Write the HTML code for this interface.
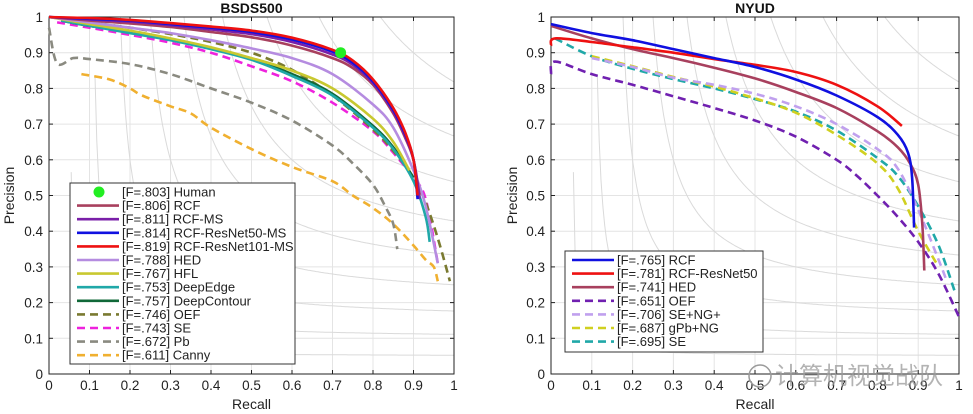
<!DOCTYPE html>
<html><head><meta charset="utf-8">
<style>
html,body{margin:0;padding:0;background:#fff;}
svg{display:block;font-family:"Liberation Sans",Arial,sans-serif;}
</style></head>
<body>
<svg id="fig" width="973" height="414" viewBox="0 0 973 414" xmlns="http://www.w3.org/2000/svg"></svg>
<script>
const ticks = [0,0.1,0.2,0.3,0.4,0.5,0.6,0.7,0.8,0.9,1];
const tickLabels = ["0","0.1","0.2","0.3","0.4","0.5","0.6","0.7","0.8","0.9","1"];
const isoF = [0.1,0.2,0.3,0.4,0.5,0.6,0.7,0.8,0.9];

// BSDS500 series: [recall, precision]
const bRCF101 = [[0,1],[0.1,0.997],[0.2,0.992],[0.3,0.983],[0.4,0.973],[0.5,0.962],[0.6,0.942],[0.7,0.908],[0.75,0.878],[0.8,0.825],[0.85,0.745],[0.88,0.675],[0.9,0.6],[0.91,0.5]];
const bRCF50 = [[0,1],[0.1,0.995],[0.2,0.99],[0.3,0.98],[0.4,0.97],[0.5,0.958],[0.6,0.937],[0.7,0.903],[0.75,0.872],[0.8,0.82],[0.85,0.74],[0.88,0.67],[0.9,0.6],[0.91,0.49]];
const bRCFMS = [[0,1],[0.1,0.993],[0.2,0.987],[0.3,0.977],[0.4,0.965],[0.5,0.952],[0.6,0.93],[0.7,0.895],[0.75,0.866],[0.8,0.815],[0.85,0.735],[0.88,0.665],[0.9,0.6],[0.915,0.49]];
const bRCF = [[0,1],[0.1,0.99],[0.2,0.982],[0.3,0.972],[0.4,0.958],[0.5,0.943],[0.6,0.92],[0.7,0.885],[0.75,0.857],[0.8,0.81],[0.85,0.73],[0.88,0.66],[0.9,0.6],[0.915,0.5]];
const bHED = [[0,1],[0.1,0.985],[0.2,0.97],[0.3,0.955],[0.4,0.935],[0.5,0.912],[0.6,0.885],[0.7,0.84],[0.8,0.755],[0.85,0.69],[0.9,0.57],[0.93,0.47],[0.96,0.31]];
const bHFL = [[0,1],[0.1,0.98],[0.2,0.962],[0.3,0.94],[0.4,0.915],[0.5,0.885],[0.6,0.85],[0.7,0.8],[0.8,0.715],[0.85,0.65],[0.89,0.57]];
const bDeepEdge = [[0.03,0.99],[0.1,0.975],[0.2,0.955],[0.3,0.935],[0.4,0.91],[0.5,0.88],[0.6,0.835],[0.7,0.78],[0.8,0.69],[0.85,0.63],[0.9,0.54],[0.93,0.44],[0.94,0.37]];
const bDeepContour = [[0.03,0.99],[0.1,0.975],[0.2,0.957],[0.3,0.937],[0.4,0.912],[0.5,0.882],[0.6,0.84],[0.7,0.785],[0.8,0.695],[0.85,0.635],[0.9,0.55]];
const bOEF = [[0,1],[0.1,0.985],[0.2,0.97],[0.3,0.952],[0.4,0.93],[0.5,0.9],[0.6,0.852],[0.7,0.78],[0.8,0.685],[0.85,0.625],[0.9,0.55],[0.93,0.48],[0.96,0.38],[0.99,0.26]];
const bSE = [[0.02,0.985],[0.1,0.97],[0.2,0.95],[0.3,0.928],[0.4,0.9],[0.5,0.862],[0.6,0.82],[0.7,0.76],[0.8,0.68],[0.85,0.62],[0.9,0.55],[0.93,0.49],[0.96,0.31]];
const bPb = [[0,0.97],[0.02,0.87],[0.06,0.885],[0.1,0.882],[0.2,0.868],[0.3,0.84],[0.4,0.8],[0.5,0.76],[0.6,0.71],[0.7,0.64],[0.75,0.59],[0.8,0.53],[0.83,0.47],[0.85,0.42],[0.86,0.35]];
const bCanny = [[0.08,0.84],[0.15,0.825],[0.2,0.8],[0.23,0.78],[0.3,0.75],[0.35,0.73],[0.4,0.69],[0.5,0.63],[0.6,0.58],[0.7,0.54],[0.75,0.5],[0.8,0.465],[0.85,0.42],[0.9,0.36],[0.93,0.32],[0.95,0.3],[0.96,0.26]];
const bHuman = [0.72,0.90];

// NYUD series
const nRCF = [[0,0.98],[0.1,0.955],[0.2,0.935],[0.3,0.91],[0.4,0.885],[0.5,0.86],[0.6,0.825],[0.7,0.78],[0.8,0.72],[0.85,0.67],[0.875,0.62],[0.885,0.55],[0.89,0.41]];
const nRCF50 = [[0,0.92],[0.01,0.94],[0.1,0.93],[0.2,0.915],[0.3,0.9],[0.4,0.882],[0.5,0.866],[0.6,0.846],[0.7,0.81],[0.8,0.75],[0.86,0.695]];
const nHED = [[0,0.975],[0.1,0.94],[0.2,0.91],[0.3,0.885],[0.4,0.858],[0.5,0.828],[0.6,0.79],[0.7,0.745],[0.8,0.68],[0.85,0.635],[0.88,0.59],[0.9,0.53],[0.91,0.42],[0.915,0.29]];
const nOEF = [[0,0.84],[0.01,0.875],[0.1,0.84],[0.2,0.81],[0.3,0.778],[0.4,0.745],[0.5,0.71],[0.6,0.665],[0.7,0.6],[0.75,0.555],[0.8,0.5],[0.85,0.44],[0.9,0.37],[0.95,0.28],[1.0,0.16]];
const nSENG = [[0.1,0.885],[0.2,0.86],[0.3,0.83],[0.4,0.81],[0.5,0.785],[0.6,0.75],[0.7,0.7],[0.8,0.63],[0.85,0.575],[0.9,0.46],[0.95,0.32],[0.97,0.26]];
const nGPb = [[0.1,0.89],[0.2,0.862],[0.3,0.832],[0.4,0.805],[0.5,0.772],[0.6,0.732],[0.7,0.67],[0.8,0.59],[0.85,0.52],[0.9,0.4],[0.95,0.3]];
const nSE = [[0.01,0.94],[0.1,0.89],[0.2,0.855],[0.3,0.826],[0.4,0.8],[0.5,0.77],[0.6,0.735],[0.7,0.682],[0.8,0.605],[0.85,0.555],[0.9,0.47],[0.95,0.36],[0.99,0.23]];

const NS = "http://www.w3.org/2000/svg";
const svg = document.getElementById('fig');
function mk(tag, attrs, parent){
  const e = document.createElementNS(NS, tag);
  for (const k in attrs) e.setAttribute(k, attrs[k]);
  (parent||svg).appendChild(e);
  return e;
}
function smoothPath(p){
  let d = 'M'+p[0][0].toFixed(1)+','+p[0][1].toFixed(1);
  for(let i=0;i<p.length-1;i++){
    const a=p[i-1]||p[i], b=p[i], c=p[i+1], e=p[i+2]||c;
    const c1x=b[0]+(c[0]-a[0])/6, c1y=b[1]+(c[1]-a[1])/6;
    const c2x=c[0]-(e[0]-b[0])/6, c2y=c[1]-(e[1]-b[1])/6;
    d+=' C'+c1x.toFixed(1)+','+c1y.toFixed(1)+' '+c2x.toFixed(1)+','+c2y.toFixed(1)+' '+c[0].toFixed(1)+','+c[1].toFixed(1);
  }
  return d;
}

function drawPanel(cfg){
  const {x0,x1,y0,y1,title,name} = cfg;
  const sx = v => x0 + v*(x1-x0);
  const sy = v => y0 - v*(y0-y1);
  const g = mk('g',{});
  
  
  mk('rect',{x:x0,y:y1,width:x1-x0,height:y0-y1,fill:'#fff'},g);
  ticks.forEach(t=>{
    mk('line',{x1:sx(t),x2:sx(t),y1:y1,y2:y0,stroke:'#e4e4e4','stroke-width':1},g);
    mk('line',{x1:x0,x2:x1,y1:sy(t),y2:sy(t),stroke:'#e4e4e4','stroke-width':1},g);
  });
  const clipId = name+'-clip';
  const cp = mk('clipPath',{id:clipId},g);
  mk('rect',{x:x0,y:y1,width:x1-x0,height:y0-y1},cp);
  isoF.forEach(f=>{
    let pts=[];
    for(let i=0;i<=200;i++){
      const r = f/2 + (1-f/2)*i/200 + 0.0001;
      const p = f*r/(2*r-f);
      if(p<=1.05) pts.push(sx(r).toFixed(1)+','+sy(Math.min(p,1.05)).toFixed(1));
    }
    const pl = mk('polyline',{points:pts.join(' '),fill:'none',stroke:'#dadada','stroke-width':1,'clip-path':'url(#'+clipId+')'},g);
    
    
  });
  mk('rect',{x:x0,y:y1,width:x1-x0,height:y0-y1,fill:'none',stroke:'#222','stroke-width':1},g);
  ticks.forEach((t,i)=>{
    mk('line',{x1:sx(t),x2:sx(t),y1:y0,y2:y0-4,stroke:'#222'},g);
    mk('line',{x1:sx(t),x2:sx(t),y1:y1,y2:y1+4,stroke:'#222'},g);
    mk('line',{x1:x0,x2:x0+4,y1:sy(t),y2:sy(t),stroke:'#222'},g);
    mk('line',{x1:x1,x2:x1-4,y1:sy(t),y2:sy(t),stroke:'#222'},g);
    const xl = mk('text',{x:sx(t),y:y0+16,'font-size':13.5,'text-anchor':'middle',fill:'#222'},g);
    xl.textContent = tickLabels[i];
    
    
    const yl = mk('text',{x:x0-6,y:sy(t)+5,'font-size':13.5,'text-anchor':'end',fill:'#222'},g);
    yl.textContent = tickLabels[i];
    
    
  });
  const tt = mk('text',{x:(x0+x1)/2,y:13,'font-size':14,'font-weight':'bold','text-anchor':'middle',fill:'#111'},g);
  tt.textContent = title;
  
  
  const xt = mk('text',{x:(x0+x1)/2,y:409,'font-size':14,'text-anchor':'middle',fill:'#222'},g);
  xt.textContent = 'Recall';
  
  
  const yt = mk('text',{x:0,y:0,'font-size':14,'text-anchor':'middle',fill:'#222',transform:'translate('+(cfg.ytx)+','+((y0+y1)/2)+') rotate(-90)'},g);
  yt.textContent = 'Precision';
  
  
  cfg.series.forEach(s=>{
    const p = s.data.map(d=>[sx(d[0]),sy(d[1])]);
    const pl = mk('path',{d:smoothPath(p),fill:'none',stroke:s.color,'stroke-width':2.6,'stroke-linejoin':'round','stroke-dasharray':s.dash?'8,5':'none'},g);
    
    
  });
  if(cfg.human){
    const c = mk('circle',{cx:sx(cfg.human[0]),cy:sy(cfg.human[1]),r:5.5,fill:'#22ee22'},g);
    
    
  }
  const L = cfg.legend;
  const lg = mk('g',{},g);
  
  
  mk('rect',{x:L.x,y:L.y,width:L.w,height:L.h,fill:'#fff',stroke:'#333','stroke-width':1},lg);
  L.items.forEach((it,i)=>{
    const cy = L.y + L.pad + i*L.step;
    if(it.marker){
      mk('circle',{cx:L.x+29,cy:cy,r:5.5,fill:'#22ee22'},lg);
    } else {
      mk('line',{x1:L.x+7,x2:L.x+49,y1:cy,y2:cy,stroke:it.color,'stroke-width':2.6,'stroke-dasharray':it.dash?'8,5':'none'},lg);
    }
    const tx = mk('text',{x:L.x+52,y:cy+4.5,'font-size':13,fill:'#222'},lg);
    tx.textContent = it.label;
    
    
  });
}

const C = {rcf:'#a8405e',rcfms:'#7a1fa8',r50:'#1010e0',r101:'#ee1111',hed:'#b58ce0',hfl:'#c8c830',edge:'#20a8a8',cont:'#106838',oef:'#7a7a30',se:'#ee22dd',pb:'#8a8a80',canny:'#f0b030'};

drawPanel({name:'bsds500-chart',title:'BSDS500',x0:49,x1:454,y0:374,y1:17,ytx:14,human:bHuman,
  series:[
    {key:'canny',data:bCanny,color:C.canny,dash:1},
    {key:'pb',data:bPb,color:C.pb,dash:1},
    {key:'se',data:bSE,color:C.se,dash:1},
    {key:'oef',data:bOEF,color:C.oef,dash:1},
    {key:'deepcontour',data:bDeepContour,color:C.cont},
    {key:'deepedge',data:bDeepEdge,color:C.edge},
    {key:'hfl',data:bHFL,color:C.hfl},
    {key:'hed',data:bHED,color:C.hed},
    {key:'rcf',data:bRCF,color:C.rcf},
    {key:'rcf-ms',data:bRCFMS,color:C.rcfms},
    {key:'rcf-resnet50-ms',data:bRCF50,color:C.r50},
    {key:'rcf-resnet101-ms',data:bRCF101,color:C.r101}
  ],
  legend:{x:70,y:183,w:225,h:181,pad:9,step:13.6,items:[
    {marker:1,label:'[F=.803] Human'},
    {color:C.rcf,label:'[F=.806] RCF'},
    {color:C.rcfms,label:'[F=.811] RCF-MS'},
    {color:C.r50,label:'[F=.814] RCF-ResNet50-MS'},
    {color:C.r101,label:'[F=.819] RCF-ResNet101-MS'},
    {color:C.hed,label:'[F=.788] HED'},
    {color:C.hfl,label:'[F=.767] HFL'},
    {color:C.edge,label:'[F=.753] DeepEdge'},
    {color:C.cont,label:'[F=.757] DeepContour'},
    {color:C.oef,dash:1,label:'[F=.746] OEF'},
    {color:C.se,dash:1,label:'[F=.743] SE'},
    {color:C.pb,dash:1,label:'[F=.672] Pb'},
    {color:C.canny,dash:1,label:'[F=.611] Canny'}
  ]}
});

const D = {rcf:'#1010e0',r50:'#ee1111',hed:'#a8405e',oef:'#7020b0',seng:'#c0a0ee',gpb:'#d0d020',se:'#20a8a8'};
drawPanel({name:'nyud-chart',title:'NYUD',x0:551,x1:959,y0:374,y1:17,ytx:517,
  series:[
    {key:'se',data:nSE,color:D.se,dash:1},
    {key:'gpb-ng',data:nGPb,color:D.gpb,dash:1},
    {key:'se-ng',data:nSENG,color:D.seng,dash:1},
    {key:'oef',data:nOEF,color:D.oef,dash:1},
    {key:'hed',data:nHED,color:D.hed},
    {key:'rcf-resnet50',data:nRCF50,color:D.r50},
    {key:'rcf',data:nRCF,color:D.rcf}
  ],
  legend:{x:565,y:251,w:198,h:101,pad:9,step:13.6,items:[
    {color:D.rcf,label:'[F=.765] RCF'},
    {color:D.r50,label:'[F=.781] RCF-ResNet50'},
    {color:D.hed,label:'[F=.741] HED'},
    {color:D.oef,dash:1,label:'[F=.651] OEF'},
    {color:D.seng,dash:1,label:'[F=.706] SE+NG+'},
    {color:D.gpb,dash:1,label:'[F=.687] gPb+NG'},
    {color:D.se,dash:1,label:'[F=.695] SE'}
  ]}
});
</script>
<svg style="position:absolute;left:0;top:0" width="973" height="414">
  <text x="775" y="384" font-size="24" fill="#9a9a9a" fill-opacity="0.75" font-family="'Liberation Sans','Noto Sans CJK SC',sans-serif">计算机视觉战队</text>
  <circle cx="760" cy="376" r="11" fill="none" stroke="#9a9a9a" stroke-width="1.5"/>
</svg>
</body></html>
